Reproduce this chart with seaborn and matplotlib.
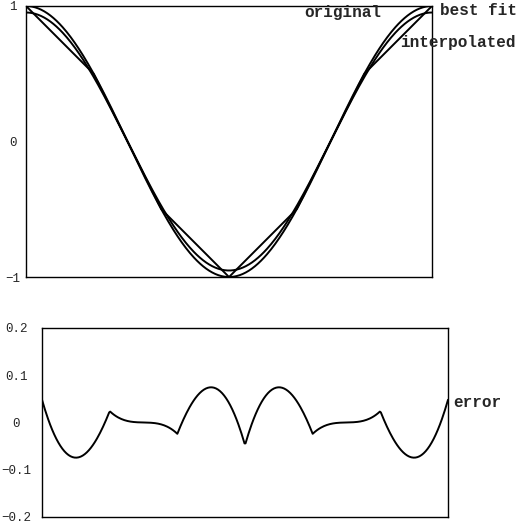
import numpy as np
import pandas as pd
import seaborn as sns
import matplotlib.pyplot as plt

# knots of the piecewise linear interpolation (in multiples of pi/3)
knot_steps = [0, 1, 2, 3, 4, 5, 6]
interp_vals = [1.0, 0.5, -0.5, -1.0, -0.5, 0.5, 1.0]
# best fit is a scaled cosine
fit_scale = 0.952

ytick_top = [-1, 0, 1]
ytick_top_lbl = ["\u22121", "0", "1"]
ytick_bot = [-0.2, -0.1, 0, 0.1, 0.2]
ytick_bot_lbl = ["\u22120.2", "\u22120.1", "0", "0.1", "0.2"]

knot_x = np.array(knot_steps) * np.pi / 3
x = np.linspace(0, 2 * np.pi, 400)   # the chart plots cos(x) on [0, 2pi]
original = np.cos(x)
best = fit_scale * np.cos(x)
err = np.interp(x, knot_x, interp_vals) - best

sns.set_style("white")
plt.rcParams["font.family"] = ["Liberation Mono", "DejaVu Sans Mono"]

fig = plt.figure(figsize=(5.18, 5.21), dpi=100)
ax1 = fig.add_axes([0.0502, 0.4683, 0.7838, 0.5202])
ax2 = fig.add_axes([0.0811, 0.0077, 0.7838, 0.3628])

lw = 1.4
sns.lineplot(x=x, y=original, ax=ax1, color="black", lw=lw, sort=False)
sns.lineplot(x=x, y=best, ax=ax1, color="black", lw=lw, sort=False)
sns.lineplot(x=knot_x, y=interp_vals, ax=ax1, color="black", lw=lw, sort=False)
sns.lineplot(x=x, y=err, ax=ax2, color="black", lw=lw, sort=False)

for ax in (ax1, ax2):
    ax.set_xlim(0, 2 * np.pi)
    ax.set_xticks([])
    ax.set_xlabel("")
    ax.set_ylabel("")
    for s in ax.spines.values():
        s.set_visible(True)
        s.set_color("black")
        s.set_linewidth(1.0)

ax1.set_ylim(-1, 1)
ax1.set_yticks(ytick_top)
ax1.set_yticklabels(ytick_top_lbl, fontsize=9, ha="center")
ax1.tick_params(axis="y", length=0, pad=9.7)

ax2.set_ylim(-0.2, 0.2)
ax2.set_yticks(ytick_bot)
ax2.set_yticklabels(ytick_bot_lbl, fontsize=9, ha="center")
ax2.tick_params(axis="y", length=0, pad=18.7)

bold = dict(fontsize=11.5, fontweight="bold", va="center", clip_on=False)
ax1.text(5.49, 0.955, "original", ha="right", **bold)
ax1.text(6.407, 0.97, "best fit", ha="left", **bold)
ax1.text(5.788, 0.727, "interpolated", ha="left", **bold)
ax2.text(6.36, 0.043, "error", ha="left", **bold)

fig.savefig("out.png", dpi=100)
